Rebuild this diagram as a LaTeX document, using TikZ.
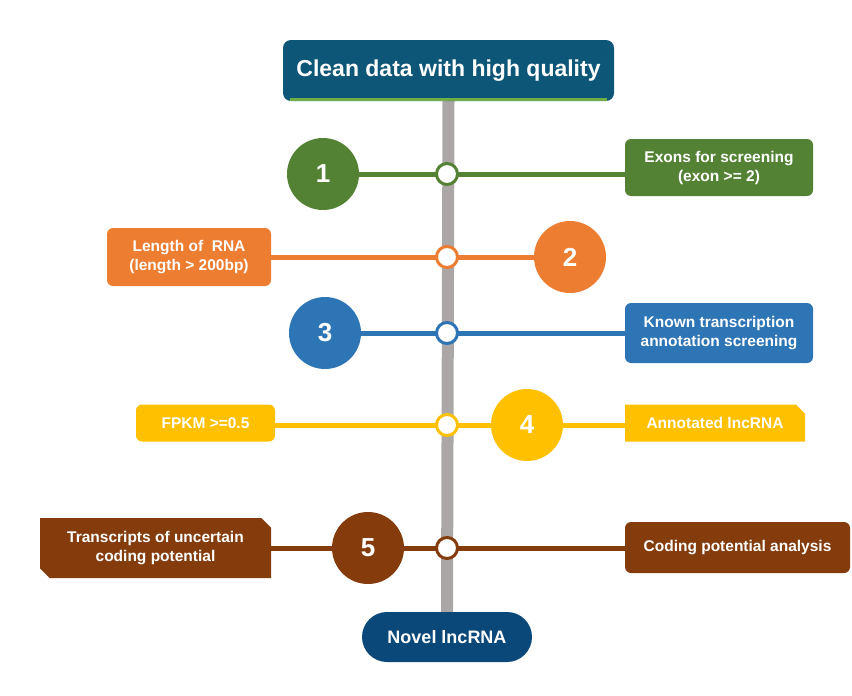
\documentclass[tikz,border=0pt]{standalone}
\usepackage{fontspec}
\setmainfont{Liberation Sans}
\usepackage{xcolor}
\usetikzlibrary{positioning, shapes.misc, backgrounds}
\definecolor{titleblue}{RGB}{14,86,120}
\definecolor{limeline}{RGB}{112,173,71}
\definecolor{stepgreen}{RGB}{84,130,53}
\definecolor{steporange}{RGB}{237,125,49}
\definecolor{stepblue}{RGB}{46,117,182}
\definecolor{stepyellow}{RGB}{255,192,0}
\definecolor{stepbrown}{RGB}{132,60,12}
\definecolor{endnavy}{RGB}{10,72,122}
\definecolor{railgray}{RGB}{172,167,167}

\begin{document}
\begin{tikzpicture}[x=1pt, y=-1pt,
  box/.style={rounded corners=6pt, inner sep=0pt, align=center, text=white, font=\bfseries\fontsize{15.5}{19}\selectfont},
  snipbox/.style={chamfered rectangle, chamfered rectangle xsep=6pt, inner sep=0pt, align=center, text=white, font=\bfseries\fontsize{15.5}{19}\selectfont},
  numc/.style={circle, minimum size=72pt, inner sep=0pt, text=white, font=\bfseries\fontsize{26}{26}\selectfont},
  ring/.style={circle, draw, fill=white, line width=3pt, minimum size=21pt, inner sep=0pt},
  link/.style={line width=5pt},
  rail/.style={line width=12pt, color=railgray}]
  \useasboundingbox (0,0) rectangle (852,696);
  % start and end
  \node[box, fill=titleblue, rounded corners=8pt, minimum width=331pt, minimum height=61pt, font=\bfseries\fontsize{23}{26}\selectfont] (clean) at (448.5,70.5) {Clean data with high quality};
  \node[box, fill=endnavy, rounded corners=25pt, minimum width=170pt, minimum height=50pt, font=\bfseries\fontsize{18}{21}\selectfont] (novel) at (447,637) {Novel lncRNA};
  \draw[limeline, line width=3pt] ([xshift=7pt, yshift=1.5pt]clean.south west) -- ([xshift=-7pt, yshift=1.5pt]clean.south east);
  % step 1
  \node[numc, fill=stepgreen] (n1) at (323,174) {1};
  \node[ring, draw=stepgreen] (r1) at (447,174) {};
  \node[box, fill=stepgreen, minimum width=188pt, minimum height=57pt] (exon) at (719,167.5) {Exons for screening\\(exon >= 2)};
  % step 2
  \node[box, fill=steporange, minimum width=164pt, minimum height=58pt] (len) at (189,257) {Length of~ RNA\\(length > 200bp)};
  \node[ring, draw=steporange] (r2) at (447,257) {};
  \node[numc, fill=steporange] (n2) at (570,257) {2};
  % step 3
  \node[numc, fill=stepblue] (n3) at (325,333) {3};
  \node[ring, draw=stepblue] (r3) at (447,333) {};
  \node[box, fill=stepblue, minimum width=188pt, minimum height=60pt] (known) at (719,333) {Known transcription\\annotation screening};
  % step 4
  \node[box, fill=stepyellow, minimum width=139pt, minimum height=37pt] (fpkm) at (205.5,423) {FPKM >=0.5};
  \node[ring, draw=stepyellow] (r4) at (447,425) {};
  \node[numc, fill=stepyellow] (n4) at (527,425) {4};
  \node[snipbox, chamfered rectangle corners=north east, fill=stepyellow, minimum width=180pt, minimum height=37pt] (annot) at (715,423) {Annotated lncRNA};
  % step 5
  \node[snipbox, chamfered rectangle corners={north east, south west}, fill=stepbrown, minimum width=231pt, minimum height=60pt] (uncert) at (155.5,548) {Transcripts of uncertain\\coding potential};
  \node[numc, fill=stepbrown] (n5) at (368,548) {5};
  \node[ring, draw=stepbrown] (r5) at (447,548) {};
  \node[box, fill=stepbrown, minimum width=225pt, minimum height=51pt] (coding) at (737.5,547.5) {Coding potential analysis};
  % rail and links
  \begin{scope}[on background layer]
    \draw[rail] (clean.south) -- (novel.north);
    \draw[link, stepgreen] (n1) -- (n1 -| exon.west);
    \draw[link, steporange] (len.east |- n2) -- (n2);
    \draw[link, stepblue] (n3) -- (known);
    \draw[link, stepyellow] (fpkm.east |- n4) -- (annot.west |- n4);
    \draw[link, stepbrown] (uncert.east |- n5) -- (coding.west |- n5);
  \end{scope}
\end{tikzpicture}
\end{document}
